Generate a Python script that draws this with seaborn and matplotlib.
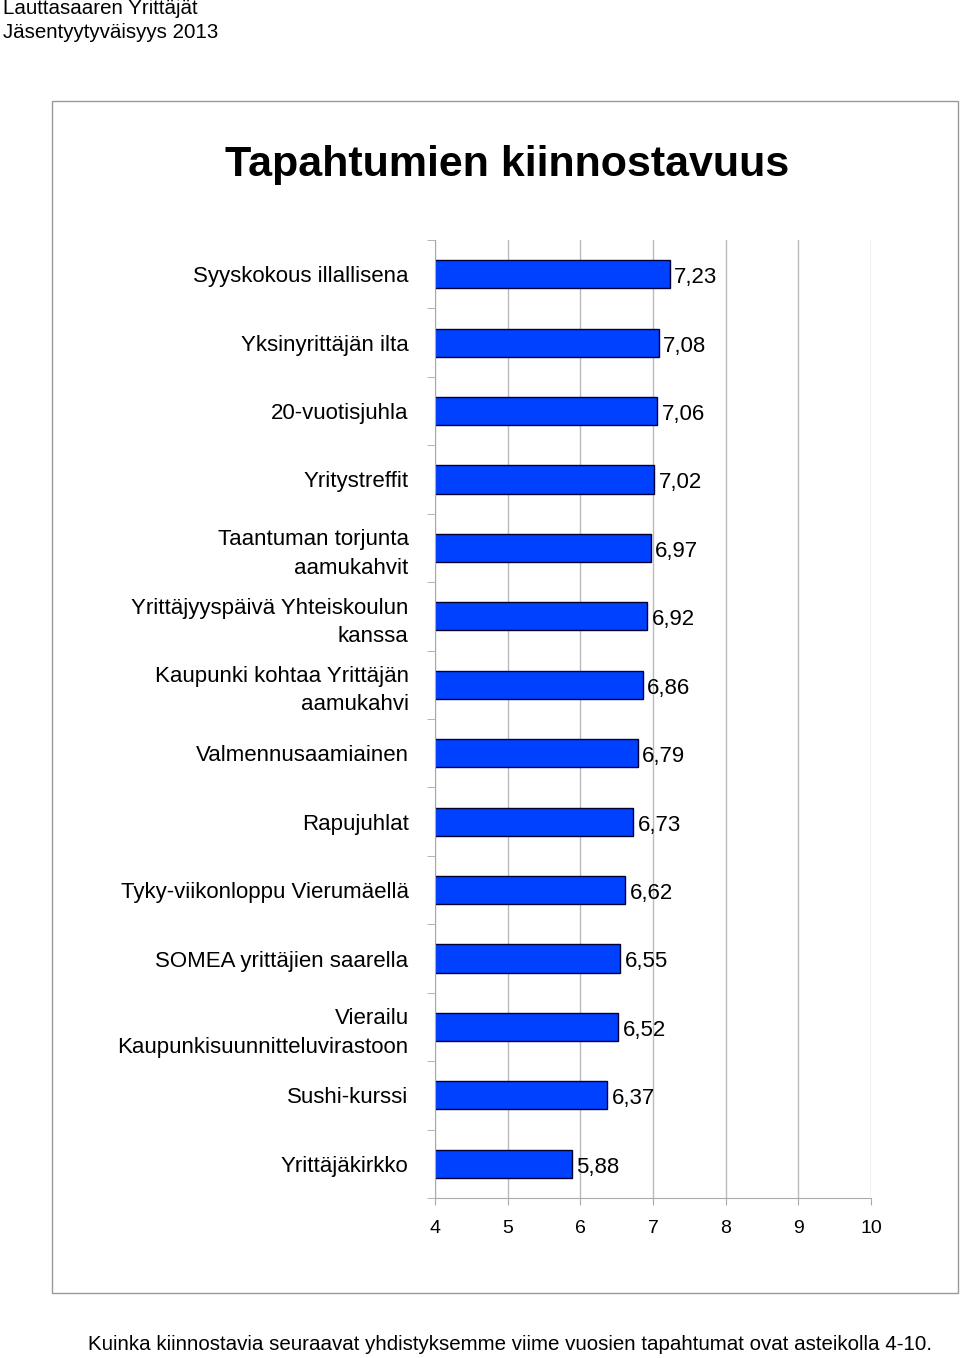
import matplotlib
matplotlib.use("Agg")
import matplotlib.pyplot as plt
import seaborn as sns
import pandas as pd
from matplotlib.patches import Rectangle

categories = ["Syyskokous illallisena", "Yksinyrittäjän ilta", "20-vuotisjuhla", "Yritystreffit",
              "Taantuman torjunta\naamukahvit", "Yrittäjyyspäivä Yhteiskoulun\nkanssa",
              "Kaupunki kohtaa Yrittäjän\naamukahvi", "Valmennusaamiainen", "Rapujuhlat",
              "Tyky-viikonloppu Vierumäellä", "SOMEA yrittäjien saarella",
              "Vierailu\nKaupunkisuunnitteluvirastoon", "Sushi-kurssi", "Yrittäjäkirkko"]
values = [7.23, 7.08, 7.06, 7.02, 6.97, 6.92, 6.86, 6.79, 6.73, 6.62, 6.55, 6.52, 6.37, 5.88]
xticks = [4, 5, 6, 7, 8, 9, 10]

df = pd.DataFrame({"cat": categories, "val": values})
fig = plt.figure(figsize=(9.6, 13.58), dpi=100)
fig.add_artist(Rectangle((52/960, 1-1293/1358), 906/960, 1192/1358, transform=fig.transFigure,
                         fill=False, edgecolor="#999999", lw=1))
ax = fig.add_axes([435/960, 1-1198/1358, 436/960, 958/1358])
sns.barplot(data=df, x="val", y="cat", orient="h", color="#0040ff", edgecolor="#000033",
            linewidth=1, width=0.41, saturation=1, ax=ax)
ax.set_xlim(4, 10)
ax.set_ylim(len(values) - 0.5, -0.5)
ax.set_xticks(xticks)
ax.set_xticklabels([str(t) for t in xticks], fontsize=14, family="Liberation Sans")
ax.set_yticks(range(len(values)))
ax.set_yticklabels(categories, fontsize=16, family="Liberation Sans", linespacing=1.45)
ax.set_yticks([i - 0.5 for i in range(len(values) + 1)], minor=True)
ax.tick_params(axis="y", which="major", length=0, pad=19)
ax.tick_params(axis="y", which="minor", length=6, color="#aaaaaa")
ax.tick_params(axis="x", length=5, color="#aaaaaa", pad=11)
ax.grid(axis="x", color="#bbbbbb", lw=1)
ax.set_axisbelow(True)
for s in ["top", "right"]:
    ax.spines[s].set_visible(False)
for s in ["left", "bottom"]:
    ax.spines[s].set_color("#aaaaaa")
ax.set_xlabel(""); ax.set_ylabel("")
for i, v in enumerate(values):
    ax.text(v + 0.06, i + 0.05, f"{v:.2f}".replace(".", ","), va="center", ha="left",
            fontsize=16, family="Liberation Sans")
fig.text(507/960, 1-165/1358, "Tapahtumien kiinnostavuus", ha="center", va="center",
         fontsize=31, fontweight="bold", family="Liberation Sans")
fig.text(3/960, 1-9/1358, "Lauttasaaren Yrittäjät", fontsize=14.8, va="center", family="Liberation Sans")
fig.text(3/960, 1-33/1358, "Jäsentyytyväisyys 2013", fontsize=14.8, va="center", family="Liberation Sans")
fig.text(510/960, 1-1345/1358, "Kuinka kiinnostavia seuraavat yhdistyksemme viime vuosien tapahtumat ovat asteikolla 4-10.",
         fontsize=14.8, ha="center", va="center", family="Liberation Sans")
fig.savefig("out.png", dpi=100)
